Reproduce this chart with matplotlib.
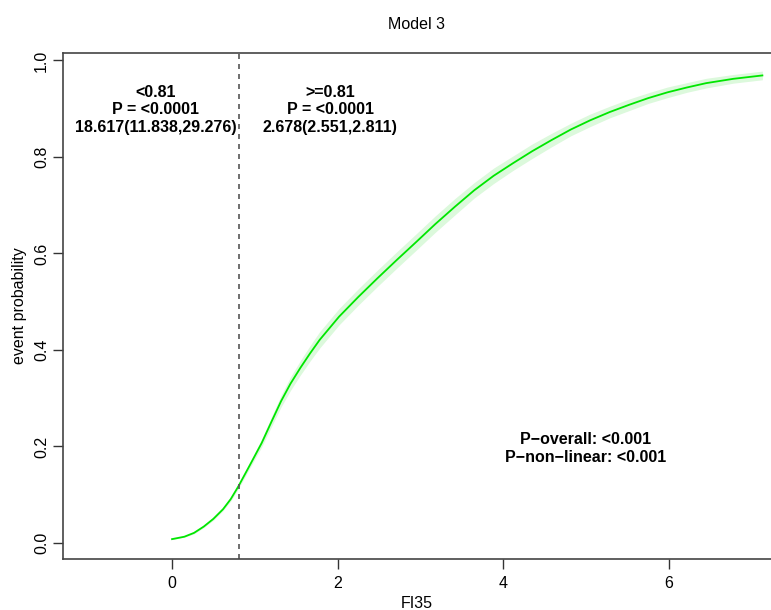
import matplotlib
matplotlib.use("Agg")
import matplotlib.pyplot as plt

plt.rcParams['font.family'] = ['Liberation Sans', 'DejaVu Sans']

# Curve data
fi35 = [0.0, 0.149, 0.266, 0.383, 0.499, 0.616, 0.709, 0.80, 0.942, 1.082, 1.2,
        1.317, 1.43, 1.55, 1.667, 1.783, 1.90, 2.017, 2.25, 2.483, 2.717, 2.95,
        3.18, 3.417, 3.65, 3.884, 4.117, 4.35, 4.583, 4.817, 5.05, 5.284, 5.518,
        5.751, 5.984, 6.217, 6.45, 6.78, 7.13]
prob = [0.008, 0.013, 0.021, 0.034, 0.050, 0.070, 0.091, 0.117, 0.162, 0.207,
        0.251, 0.294, 0.330, 0.363, 0.393, 0.421, 0.445, 0.469, 0.510, 0.549,
        0.587, 0.624, 0.661, 0.697, 0.731, 0.761, 0.787, 0.812, 0.835, 0.857,
        0.876, 0.893, 0.908, 0.922, 0.934, 0.944, 0.953, 0.962, 0.969]
band = [0.001, 0.001, 0.002, 0.002, 0.003, 0.003, 0.004, 0.005, 0.006, 0.008,
        0.010, 0.012, 0.014, 0.015, 0.016, 0.017, 0.017, 0.017, 0.017, 0.017,
        0.017, 0.017, 0.017, 0.017, 0.016, 0.016, 0.015, 0.015, 0.014, 0.013,
        0.013, 0.012, 0.012, 0.011, 0.011, 0.010, 0.010, 0.009, 0.009]
lower = [p - b for p, b in zip(prob, band)]
upper = [p + b for p, b in zip(prob, band)]

cutoff = 0.81
left_text = "<0.81\nP = <0.0001\n18.617(11.838,29.276)"
right_text = ">=0.81\nP = <0.0001\n2.678(2.551,2.811)"
p_text = "P\u2212overall: <0.001\nP\u2212non\u2212linear: <0.001"
xticks = [0, 2, 4, 6]
yticks = [0.0, 0.2, 0.4, 0.6, 0.8, 1.0]

fig = plt.figure(figsize=(7.71, 6.10), dpi=100)
ax = fig.add_axes([63/771, 1 - 559/610, (771 - 63)/771, (559 - 53)/610])

ax.fill_between(fi35, lower, upper, color="#dcf9dc", linewidth=0)
ax.plot(fi35, prob, color="#00e600", linewidth=1.3, solid_joinstyle="round")
ax.axvline(cutoff, color="#555555", linestyle=(0, (3, 3)), linewidth=1.2)

ax.set_xlim(-1.317, 7.234)
ax.set_ylim(-0.0332, 1.0155)

ax.set_xticks(xticks)
ax.set_xticklabels([str(t) for t in xticks])
ax.set_yticks(yticks)
ax.set_yticklabels([f"{t:.1f}" for t in yticks], rotation=90, va="center")

ax.tick_params(axis="both", direction="out", length=7, width=1, color="#333333",
               labelsize=11.5)
ax.tick_params(axis="x", pad=5)
ax.tick_params(axis="y", pad=3)
for s in ["left", "bottom", "top"]:
    ax.spines[s].set_color("#444444")
    ax.spines[s].set_linewidth(1.2)
ax.spines["right"].set_visible(False)

ax.set_xlabel("FI35", fontsize=11.5, labelpad=4)
ax.set_ylabel("event probability", fontsize=11.5, labelpad=5)
ax.set_title("Model 3", fontsize=11.5, pad=17)

ax.text(-0.2, 0.898, left_text, ha="center", va="center", fontsize=11.5,
        fontweight="bold", linespacing=1.2)
ax.text(1.91, 0.898, right_text, ha="center", va="center", fontsize=11.5,
        fontweight="bold", linespacing=1.2)
ax.text(4.99, 0.196, p_text, ha="center", va="center", fontsize=11.5,
        fontweight="bold", linespacing=1.2)

fig.savefig("out.png", dpi=100)
